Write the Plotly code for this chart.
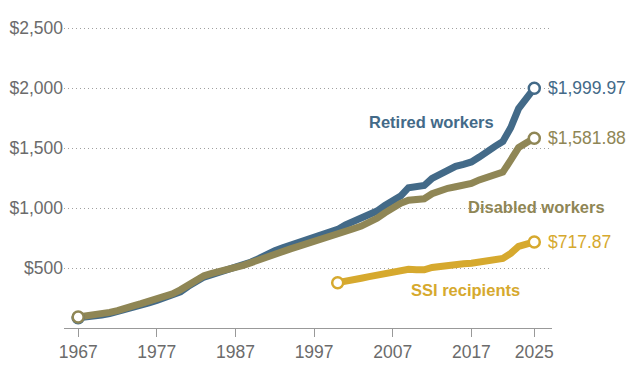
import plotly.graph_objects as go

years = list(range(1967, 2026))

retired = [85, 90, 97, 108, 120, 135, 162, 172, 190, 210,
           230, 250, 272, 302, 348, 392, 425, 445, 465, 482,
           495, 525, 550, 580, 618, 645, 668, 690, 715, 738,
           760, 780, 798, 822, 860, 888, 910, 938, 975, 1022,
           1065, 1100, 1170, 1180, 1188, 1248, 1285, 1315, 1348, 1365,
           1385, 1425, 1475, 1515, 1555, 1670, 1830, 1910, 1999.97]

disabled = [92, 98, 105, 118, 130, 145, 172, 185, 203, 222,
            242, 262, 285, 318, 362, 405, 435, 455, 472, 485,
            495, 522, 545, 570, 600, 620, 640, 660, 680, 700,
            718, 735, 755, 775, 805, 828, 850, 878, 915, 960,
            1005, 1040, 1066, 1069, 1078, 1120, 1145, 1165, 1178, 1190,
            1205, 1235, 1255, 1275, 1300, 1400, 1505, 1545, 1581.88]

ssi_years = list(range(2000, 2026))
ssi = [378, 395, 405, 415, 428, 440, 450, 460, 472, 490,
       485, 485, 505, 515, 525, 532, 535, 540, 552, 560,
       570, 580, 622, 680, 700, 717.87]

y_ticks = [500, 1000, 1500, 2000, 2500]
y_tick_labels = ["$500", "$1,000", "$1,500", "$2,000", "$2,500"]
x_ticks = [1967, 1977, 1987, 1997, 2007, 2017, 2025]

BLUE = "#436a88"
OLIVE = "#8f8655"
GOLD = "#d6a92e"
GREY = "#6b6b6b"
FONT = "Liberation Sans, Arial, sans-serif"

series = [
    ("Retired workers", years, retired, BLUE, "$1,999.97", 2011.9, 1722),
    ("Disabled workers", years, disabled, OLIVE, "$1,581.88", 2025.3, 1012),
    ("SSI recipients", ssi_years, ssi, GOLD, "$717.87", 2016.3, 314),
]

fig = go.Figure()
for name, xs, ys, col, _, _, _ in series:
    fig.add_trace(go.Scatter(x=xs, y=ys, mode="lines", name=name,
                             line=dict(color=col, width=7),
                             hoverinfo="skip"))
for name, xs, ys, col, _, _, _ in series:
    fig.add_trace(go.Scatter(x=[xs[0], xs[-1]], y=[ys[0], ys[-1]], mode="markers",
                             marker=dict(symbol="circle", size=11, color="white",
                                         line=dict(color=col, width=2.5)),
                             hoverinfo="skip", cliponaxis=False))

annotations = []
for name, xs, ys, col, endlab, lx, ly in series:
    annotations.append(dict(x=xs[-1], y=ys[-1], text=endlab, showarrow=False,
                            xanchor="left", yanchor="middle", xshift=12,
                            font=dict(family=FONT, size=17.5, color=col)))
    annotations.append(dict(x=lx, y=ly, text="<b>" + name + "</b>", showarrow=False,
                            xanchor="center", yanchor="middle",
                            font=dict(family=FONT, size=16.5, color=col)))

# The page body has an 8px default margin, so the figure is sized 8px smaller
fig.update_layout(
    width=632, height=370,
    margin=dict(l=56, r=88, t=19, b=50),
    paper_bgcolor="white", plot_bgcolor="white",
    showlegend=False,
    font=dict(family=FONT, color=GREY, size=17.5),
    annotations=annotations,
    xaxis=dict(range=[1965.2, 2027.25], tickvals=x_ticks, automargin=False,
               ticks="outside", ticklen=8, tickcolor="#999999", tickwidth=1,
               showline=True, linecolor="#999999", linewidth=1,
               showgrid=False, zeroline=False,
               tickfont=dict(family=FONT, size=17.5, color=GREY)),
    yaxis=dict(range=[0, 2510], tickvals=y_ticks, ticktext=y_tick_labels, automargin=False,
               showgrid=True, gridcolor="#a0a0a0", gridwidth=1.3, griddash="1px,3px",
               showline=False, zeroline=False, ticks="",
               tickfont=dict(family=FONT, size=17.5, color=GREY)),
)

fig.write_html("out.html")
